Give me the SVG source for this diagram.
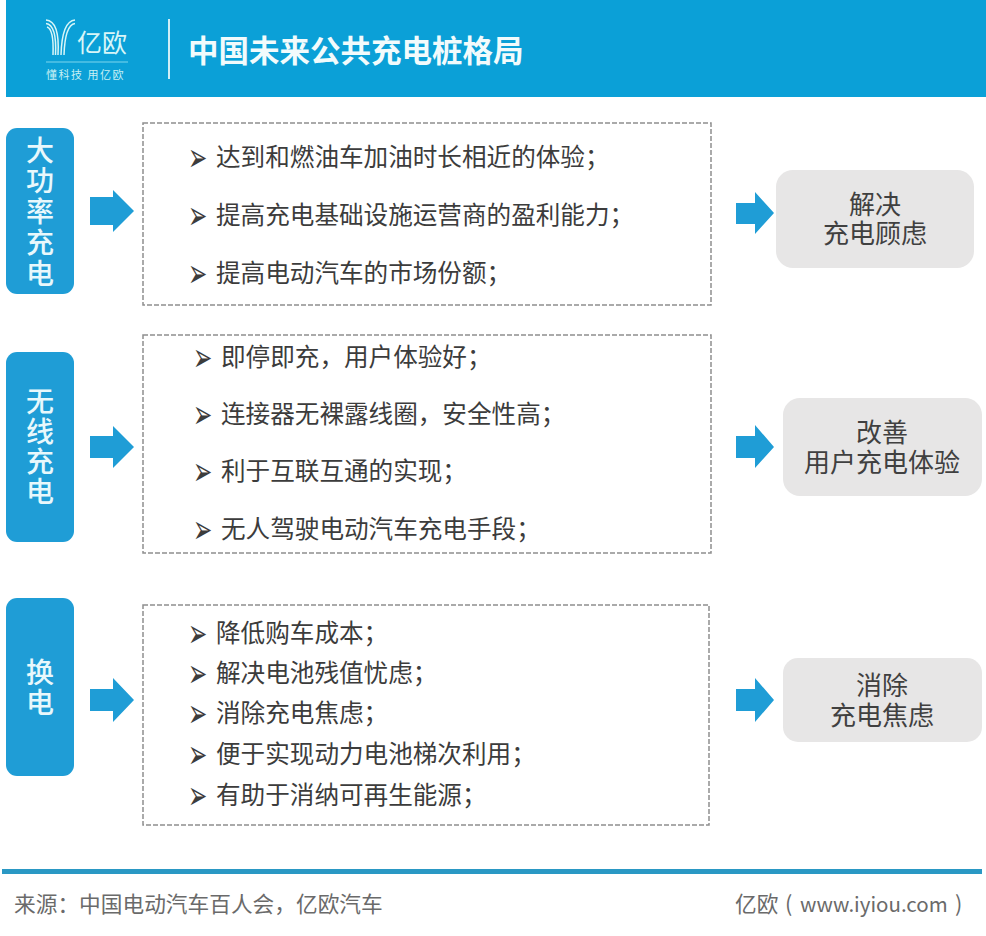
<svg xmlns="http://www.w3.org/2000/svg" width="986" height="936" viewBox="0 0 986 936">
<style>
text{font-family:"Noto Sans CJK SC","Liberation Sans",sans-serif}
.side{fill:#1f9dd6}
.sidet{fill:#e8f8fc;font-size:28px;text-anchor:middle;font-weight:500}
.box{fill:#fff;stroke:#8f8f8f;stroke-width:1.5;stroke-dasharray:5 2}
.item{fill:#3c3c3c;font-size:24.6px}
.bul{fill:#3c3c3c;font-size:20px;font-family:"DejaVu Sans",sans-serif}
.res{fill:#e7e6e6}
.rest{fill:#404040;font-size:26px;text-anchor:middle}
.arrow{fill:#1f9dd6}
.foot{fill:#6a6a6a;font-size:21.7px}
</style>
<rect width="986" height="936" fill="#fff"/>
<g id="header">
<rect x="6" y="0" width="980" height="97" fill="#0ba0d7"/>
<g id="logo" fill="none" stroke="#d8f6f8" stroke-width="1.5">
<path d="M46 20Q60 21 58 55M46 23.500Q57 25 55.500 55M47 27Q54 29 53 55"/>
<path d="M75 20Q62 21 61 55M75 23.500Q65 25 64 55"/>
<path d="M46 62H128" stroke="#58c4e6"/>
</g>
<text x="77" y="52" font-size="25" fill="#d8f6f8">亿欧</text>
<text x="46" y="79" font-size="11" fill="#c8f0f4" letter-spacing="1.5">懂科技 用亿欧</text>
<rect x="168" y="19" width="2" height="60" fill="#cfeef6"/>
<text x="188" y="62" font-size="30.500" font-weight="700" fill="#f2fbfc">中国未来公共充电桩格局</text>
</g>
<g id="connectors">
<path class="arrow" d="M90 197H113V190L134 211L113 232V225H90Z"/>
<path class="arrow" d="M90 436H113V426L134 447L113 468V458H90Z"/>
<path class="arrow" d="M90 689H113V678L134 700L113 722V711H90Z"/>
<path class="arrow" d="M736 203H755V192L774 213L755 234V224H736Z"/>
<path class="arrow" d="M736 436H755V425L774 447L755 468V458H736Z"/>
<path class="arrow" d="M736 689H755V678L774 700L755 722V711H736Z"/>
</g>
<g id="node-power">
<rect class="side" x="6" y="128" width="68" height="166" rx="11"/>
<text class="sidet"><tspan x="40" y="161">大</tspan><tspan x="40" y="191">功</tspan><tspan x="40" y="222">率</tspan><tspan x="40" y="253">充</tspan><tspan x="40" y="284">电</tspan></text>
</g>
<g id="list-power">
<rect class="box" x="143" y="123" width="568" height="182"/>
<text class="bul" transform="translate(188 171) scale(1.15 2)">➢</text><text class="item" x="216" y="166">达到和燃油车加油时长相近的体验；</text>
<text class="bul" transform="translate(188 229) scale(1.15 2)">➢</text><text class="item" x="216" y="224">提高充电基础设施运营商的盈利能力；</text>
<text class="bul" transform="translate(188 287) scale(1.15 2)">➢</text><text class="item" x="216" y="282">提高电动汽车的市场份额；</text>
</g>
<g id="result-power">
<rect class="res" x="776" y="170" width="198" height="98" rx="17"/>
<text class="rest"><tspan x="875" y="214">解决</tspan><tspan x="875" y="243">充电顾虑</tspan></text>
</g>
<g id="node-wireless">
<rect class="side" x="6" y="352" width="68" height="190" rx="11"/>
<text class="sidet"><tspan x="40" y="412">无</tspan><tspan x="40" y="442">线</tspan><tspan x="40" y="472">充</tspan><tspan x="40" y="502">电</tspan></text>
</g>
<g id="list-wireless">
<rect class="box" x="143" y="335" width="568" height="218"/>
<text class="bul" transform="translate(193 371) scale(1.15 2)">➢</text><text class="item" x="221" y="366">即停即充，用户体验好；</text>
<text class="bul" transform="translate(193 428) scale(1.15 2)">➢</text><text class="item" x="221" y="423">连接器无裸露线圈，安全性高；</text>
<text class="bul" transform="translate(193 485) scale(1.15 2)">➢</text><text class="item" x="221" y="480">利于互联互通的实现；</text>
<text class="bul" transform="translate(193 543) scale(1.15 2)">➢</text><text class="item" x="221" y="538">无人驾驶电动汽车充电手段；</text>
</g>
<g id="result-wireless">
<rect class="res" x="783" y="398" width="199" height="98" rx="17"/>
<text class="rest"><tspan x="882" y="442">改善</tspan><tspan x="882" y="472">用户充电体验</tspan></text>
</g>
<g id="node-swap">
<rect class="side" x="6" y="598" width="68" height="178" rx="11"/>
<text class="sidet"><tspan x="40" y="683">换</tspan><tspan x="40" y="713">电</tspan></text>
</g>
<g id="list-swap">
<rect class="box" x="143" y="605" width="566" height="220"/>
<text class="bul" transform="translate(188 647) scale(1.15 2)">➢</text><text class="item" x="216" y="642">降低购车成本；</text>
<text class="bul" transform="translate(188 687) scale(1.15 2)">➢</text><text class="item" x="216" y="682">解决电池残值忧虑；</text>
<text class="bul" transform="translate(188 727) scale(1.15 2)">➢</text><text class="item" x="216" y="722">消除充电焦虑；</text>
<text class="bul" transform="translate(188 768) scale(1.15 2)">➢</text><text class="item" x="216" y="763">便于实现动力电池梯次利用；</text>
<text class="bul" transform="translate(188 809) scale(1.15 2)">➢</text><text class="item" x="216" y="804">有助于消纳可再生能源；</text>
</g>
<g id="result-swap">
<rect class="res" x="783" y="658" width="199" height="84" rx="15"/>
<text class="rest"><tspan x="882" y="695">消除</tspan><tspan x="882" y="725">充电焦虑</tspan></text>
</g>
<g id="footer">
<rect x="2" y="869" width="980" height="5" fill="#2a98c4"/>
<text class="foot" x="14" y="912">来源：中国电动汽车百人会，亿欧汽车</text>
<text class="foot" x="735" y="912">亿欧<tspan x="785">(</tspan><tspan x="800" font-size="20.500">www.iyiou.com</tspan><tspan x="955">)</tspan></text>
</g>
</svg>
